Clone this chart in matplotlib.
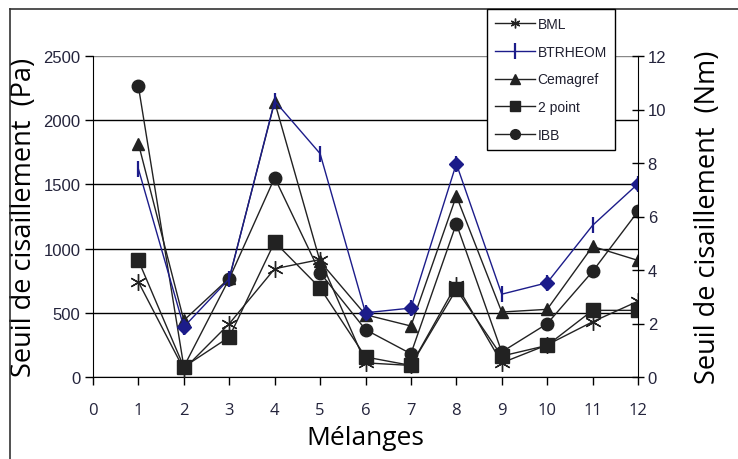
import matplotlib
matplotlib.use('Agg')
import matplotlib.pyplot as plt
from matplotlib.lines import Line2D

# data
melanges = [1, 2, 3, 4, 5, 6, 7, 8, 9, 10, 11, 12]
bml = [740, 60, 415, 843, 915, 110, 90, 720, 110, 250, 430, 590]
btrheom = [1620, 390, 765, 2150, 1740, 500, 537, 1661, 645, 734, 1181, 1505]
cemagref = [1817, 441, 770, 2142, 900, 485, 397, 1410, 506, 527, 1017, 908]
two_point = [908, 78, 311, 1051, 693, 156, 90, 682, 163, 246, 519, 519]
ibb = [2263, 80, 765, 1552, 812, 369, 181, 1194, 195, 415, 822, 1290]
# points of the blue series shown with a diamond
diamond_pts = [2, 6, 7, 8, 10, 12]

x_ticks = list(range(13))
left_ticks = [0, 500, 1000, 1500, 2000, 2500]
right_ticks = [0, 2, 4, 6, 8, 10, 12]

navy = '#1c1c8a'
tick_col = '#24243c'

fig = plt.figure(figsize=(7.38, 4.6), dpi=100)
ax = fig.add_axes([93/738, 1-378/460, (638-93)/738, (378-57)/460])
ax2 = ax.twinx()

lw = 1.0
ax.plot(melanges, bml, color='#222222', lw=lw, marker=(6, 2, 0), ms=12, mew=1.0, label='BML', zorder=3)
ax.plot(melanges, cemagref, color='#222222', lw=lw, marker='^', ms=9, label='Cemagref', zorder=3)
ax.plot(melanges, two_point, color='#222222', lw=lw, marker='s', ms=10, label='2 point', zorder=3)
ax.plot(melanges, ibb, color='#222222', lw=lw, marker='o', ms=9, label='IBB', zorder=3)
ax.plot(melanges, btrheom, color=navy, lw=lw, marker='|', ms=12, mew=1.6, label='BTRHEOM', zorder=4)
d_vals = [btrheom[melanges.index(p)] for p in diamond_pts]
ax.plot(diamond_pts, d_vals, ls='none', marker='D', ms=7.5, color=navy, zorder=5)

ax.set_xlim(0, 12)
ax.set_ylim(0, 2500)
ax2.set_ylim(0, 12)
ax.set_xticks(x_ticks)
ax.set_yticks(left_ticks)
ax2.set_yticks(right_ticks)

ax.yaxis.grid(True, color='black', lw=1.0)
ax.set_axisbelow(True)
fig.canvas.draw()
ax.get_ygridlines()[-1].set_color('#888888')

for a in (ax, ax2):
    a.spines['top'].set_visible(False)
ax2.spines['left'].set_visible(False)
ax2.spines['bottom'].set_visible(False)
ax.spines['right'].set_visible(False)

ax.tick_params(axis='y', direction='out', length=6, width=1, labelsize=12,
               labelcolor=tick_col, pad=3)
ax.tick_params(axis='x', direction='out', length=6, width=1, labelsize=12,
               labelcolor=tick_col, pad=12)
ax2.tick_params(axis='y', direction='inout', length=8, width=1, labelsize=12,
                labelcolor=tick_col, pad=3)
for lab in ax.get_yticklabels() + ax2.get_yticklabels():
    lab.set_family('Liberation Sans')
for lab in ax.get_xticklabels():
    lab.set_family('Open Sans')

ax.set_xlabel('Mélanges', fontsize=19, family='Open Sans', labelpad=5)
ax.set_ylabel('Seuil de cisaillement  (Pa)', fontsize=19.5, family='Open Sans', labelpad=4)
ax2.set_ylabel('Seuil de cisaillement  (Nm)', fontsize=19.5, family='Open Sans', labelpad=20)

# legend in the order of the original
handles, labels = ax.get_legend_handles_labels()
order = ['BML', 'BTRHEOM', 'Cemagref', '2 point', 'IBB']
hl = {l: h for h, l in zip(handles, labels)}
leg = fig.legend([hl[o] for o in order], order, loc='upper left',
                 bbox_to_anchor=(487/738, 1-10/460), frameon=True, fancybox=False,
                 edgecolor='black', framealpha=1, borderpad=0.55, labelspacing=1.0,
                 handlelength=2.9, handletextpad=0.2, borderaxespad=0,
                 prop={'family': 'Liberation Sans', 'size': 10})
leg.get_frame().set_linewidth(1.0)
for t in leg.get_texts():
    t.set_color('#202030')
for h in leg.legend_handles:
    if h.get_marker() == '|':
        h.set_markersize(12)
    else:
        h.set_markersize(7)

# outer frame (top and left edges)
fig.add_artist(Line2D([10/738, 10/738], [0, 1-10/460], color='#333333', lw=1.2, transform=fig.transFigure))
fig.add_artist(Line2D([10/738, 1], [1-10/460, 1-10/460], color='#333333', lw=1.2, transform=fig.transFigure))

fig.savefig('out.png', dpi=100)
